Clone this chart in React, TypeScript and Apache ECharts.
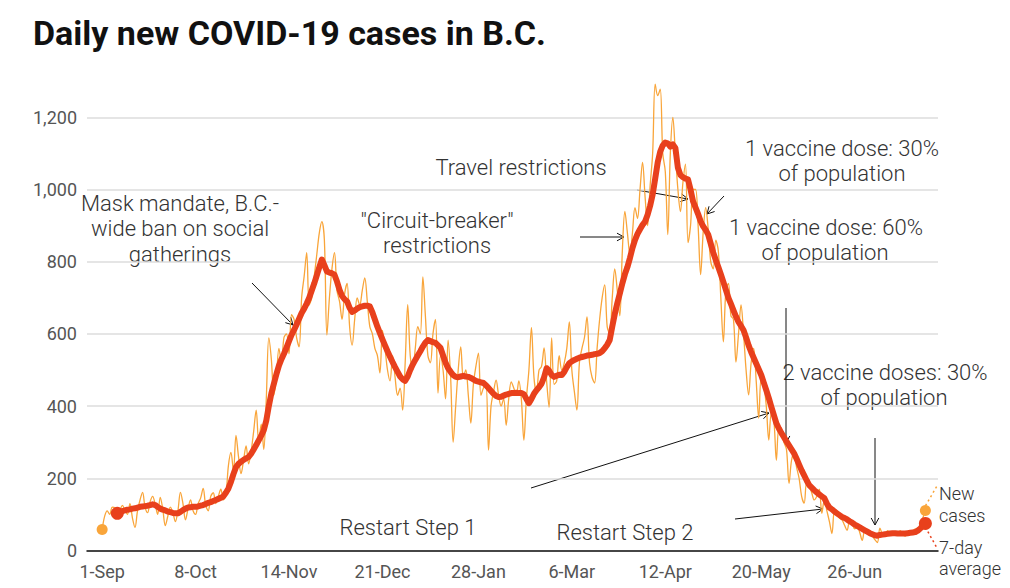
import React, { useEffect, useRef } from 'react';
import * as echarts from 'echarts';

// x tick positions (days since 1-Sep) and labels
const tickDays = [0, 37, 74, 111, 149, 186, 223, 261, 298];
const tickLabels = ['1-Sep', '8-Oct', '14-Nov', '21-Dec', '28-Jan', '6-Mar', '12-Apr', '20-May', '26-Jun'];

// Daily new cases, one value per day starting 1-Sep
const newCases = [
  58, 95, 110, 100, 120, 118, 95, 110, 125, 112,
  100, 130, 90, 64, 110, 140, 161, 120, 105, 135,
  150, 128, 100, 147, 115, 69, 95, 120, 105, 80,
  110, 161, 130, 85, 115, 140, 110, 100, 130, 145,
  172, 125, 110, 150, 160, 130, 150, 170, 140, 155,
  235, 272, 220, 319, 260, 213, 250, 290, 240, 275,
  330, 389, 300, 350, 280, 420, 589, 530, 430, 480,
  560, 520, 590, 600, 545, 653, 640, 590, 564, 700,
  760, 825, 680, 700, 760, 820, 880, 911, 860, 597,
  700, 780, 825, 720, 690, 640, 710, 740, 620, 569,
  640, 700, 680, 720, 755, 690, 620, 600, 560, 540,
  492, 610, 560, 500, 470, 540, 480, 430, 450, 389,
  520, 681, 540, 500, 560, 620, 600, 758, 650, 540,
  520, 600, 640, 436, 540, 500, 420, 583, 480, 300,
  400, 500, 564, 480, 500, 430, 353, 460, 510, 547,
  430, 450, 460, 278, 400, 440, 472, 430, 400, 420,
  347, 420, 467, 450, 430, 470, 420, 306, 420, 500,
  617, 480, 436, 500, 510, 561, 470, 397, 589, 460,
  470, 540, 500, 520, 560, 633, 500, 440, 389, 520,
  560, 590, 647, 520, 480, 464, 560, 640, 700, 736,
  620, 600, 700, 780, 720, 650, 830, 939, 880, 820,
  880, 950, 920, 1000, 1075, 980, 900, 1010, 1100, 1292,
  1260, 1278, 1100, 1050, 875, 1100, 1200, 1100, 1000, 939,
  1020, 1070, 853, 900, 1000, 1000, 900, 764, 880, 950,
  890, 800, 780, 860, 830, 700, 578, 720, 740, 650,
  640, 522, 600, 680, 600, 500, 431, 520, 560, 470,
  367, 480, 460, 400, 306, 380, 360, 250, 340, 330,
  300, 280, 186, 250, 270, 230, 200, 150, 131, 190,
  180, 160, 140, 150, 170, 103, 140, 110, 80, 47,
  110, 100, 90, 85, 70, 56, 80, 75, 60, 65,
  50, 28, 55, 50, 45, 40, 30, 22, 62, 45,
  40, 55, 48, 45, 50, 42, 55, 45, 40, 50,
  45, 52, 60, 55, 70, 90, 111,
];

// 7-day average, same days (first six days have no average)
const avg7 = [
  null, null, null, null, null, null, 103, 106, 109, 111,
  113, 114, 116, 117, 119, 121, 122, 123, 124, 126,
  128, 126, 121, 116, 113, 111, 108, 106, 104, 103,
  103, 107, 112, 116, 119, 120, 121, 121, 122, 124,
  126, 129, 132, 134, 137, 140, 143, 146, 150, 160,
  172, 190, 212, 231, 240, 246, 251, 255, 259, 268,
  280, 292, 305, 318, 333, 360, 400, 435, 462, 488,
  512, 530, 545, 562, 580, 597, 611, 626, 642, 658,
  670, 684, 700, 720, 740, 762, 785, 806, 790, 773,
  770, 768, 764, 745, 722, 705, 696, 690, 672, 661,
  665, 670, 674, 676, 678, 678, 676, 660, 640, 620,
  602, 585, 568, 552, 537, 522, 508, 495, 482, 474,
  470, 482, 500, 515, 528, 540, 552, 565, 576, 583,
  580, 577, 575, 568, 561, 540, 520, 505, 495, 486,
  481, 480, 482, 484, 482, 481, 478, 474, 470, 468,
  466, 464, 458, 450, 442, 434, 428, 425, 426, 429,
  432, 434, 436, 436, 437, 436, 436, 433, 420, 408,
  420, 434, 444, 452, 462, 480, 505, 498, 486, 481,
  484, 487, 486, 495, 508, 519, 524, 528, 531, 534,
  536, 538, 540, 541, 542, 544, 545, 547, 552, 560,
  570, 583, 620, 655, 685, 712, 740, 765, 785, 810,
  838, 860, 877, 890, 902, 911, 930, 955, 986, 1030,
  1075, 1105, 1122, 1130, 1128, 1119, 1125, 1115, 1060, 1040,
  1034, 1030, 1028, 1000, 967, 950, 932, 912, 898, 888,
  875, 850, 825, 805, 785, 765, 744, 722, 700, 683,
  665, 648, 633, 622, 610, 590, 568, 550, 534, 518,
  502, 486, 465, 444, 422, 398, 375, 352, 338, 325,
  314, 302, 291, 280, 269, 254, 238, 222, 208, 194,
  181, 174, 167, 161, 155, 150, 145, 130, 119, 114,
  108, 103, 98, 93, 90, 86, 81, 77, 72, 68,
  64, 60, 56, 52, 48, 45, 42, 41, 43, 44,
  45, 46, 47, 48, 48, 47, 47, 47, 47, 48,
  49, 50, 51, 55, 61, 68, 75,
];

const ORANGE = '#F9A53A';
const RED = '#E8401C';
const TEXT = '#333333';
const FONT = 'Roboto, "Noto Sans", sans-serif';

function arrow(x1: number, y1: number, x2: number, y2: number) {
  const ang = Math.atan2(y2 - y1, x2 - x1);
  const L = 8;
  const a = 0.5;
  const p1 = [x2 - L * Math.cos(ang - a), y2 - L * Math.sin(ang - a)];
  const p2 = [x2 - L * Math.cos(ang + a), y2 - L * Math.sin(ang + a)];
  return [
    { type: 'line', silent: true, shape: { x1, y1, x2, y2 }, style: { stroke: '#111', lineWidth: 1 } },
    { type: 'polyline', silent: true, shape: { points: [p1, [x2, y2], p2] }, style: { stroke: '#111', fill: null, lineWidth: 1 } },
  ];
}

function label(text: string, x: number, y: number, align = 'center', size = 22) {
  return {
    type: 'text',
    silent: true,
    x,
    y,
    style: {
      text,
      fill: TEXT,
      fontSize: size,
      fontWeight: 300,
      fontFamily: FONT,
      textAlign: align,
      textVerticalAlign: 'middle',
    },
  };
}

export default function App() {
  const ref = useRef<HTMLDivElement>(null);

  useEffect(() => {
    if (!ref.current) return;
    const chart = echarts.init(ref.current, null, { renderer: 'svg' });

    const caseData = newCases.map((v, i) => [i, v]);
    const avgData = avg7.map((v, i) => [i, v]).filter((d) => d[1] != null);
    const last = newCases.length - 1;

    const graphics: any[] = [
      {
        type: 'text',
        silent: true,
        x: 33,
        y: 33,
        style: {
          text: 'Daily new COVID-19 cases in B.C.',
          fill: '#111',
          fontSize: 34,
          fontWeight: 'bold',
          fontFamily: FONT,
          textVerticalAlign: 'middle',
        },
      },
      label('Mask mandate, B.C.-', 180, 203),
      label('wide ban on social', 180, 228),
      label('gatherings', 180, 254),
      label('"Circuit-breaker"', 437, 220),
      label('restrictions', 437, 245),
      label('Travel restrictions', 521, 167),
      label('1 vaccine dose: 30%', 842, 148),
      label('of population', 842, 173),
      label('1 vaccine dose: 60%', 826, 227),
      label('of population', 825, 252),
      label('2 vaccine doses: 30%', 885, 372),
      label('of population', 884, 397),
      label('Restart Step 1', 408, 527),
      label('Restart Step 2', 625, 532),
      label('New', 939, 493, 'left', 18),
      label('cases', 939, 515, 'left', 18),
      label('7-day', 939, 547, 'left', 18),
      label('average', 939, 568, 'left', 18),
      { type: 'line', silent: true, shape: { x1: 923, y1: 510, x2: 937, y2: 486 }, style: { stroke: ORANGE, lineWidth: 1.5, lineDash: [2, 3] } },
      { type: 'line', silent: true, shape: { x1: 923, y1: 523, x2: 937, y2: 548 }, style: { stroke: RED, lineWidth: 1.5, lineDash: [2, 3] } },
      ...arrow(252, 283, 293, 325),
      ...arrow(580, 237, 624, 237),
      ...arrow(637, 190, 688, 199),
      ...arrow(724, 196, 707, 214),
      ...arrow(786, 308, 786, 443),
      ...arrow(531, 488, 769, 413),
      ...arrow(735, 519, 823, 509),
      ...arrow(875, 438, 875, 525),
    ];

    chart.setOption({
      animation: false,
      backgroundColor: '#ffffff',
      grid: { left: 87, right: 72, top: 117.3, bottom: 37.5, containLabel: false },
      xAxis: {
        type: 'value',
        min: -6,
        max: 331,
        axisLine: { show: true, lineStyle: { color: '#111', width: 1.5 } },
        axisTick: { show: false },
        splitLine: { show: false },
        axisLabel: {
          customValues: tickDays,
          color: '#555',
          fontSize: 18,
          fontFamily: FONT,
          margin: 12,
          formatter: (v: number) => {
            const k = tickDays.indexOf(Math.round(v));
            return k >= 0 ? tickLabels[k] : '';
          },
        },
      },
      yAxis: {
        type: 'value',
        min: 0,
        max: 1200,
        interval: 200,
        axisLine: { show: false },
        axisTick: { show: false },
        splitLine: { lineStyle: { color: '#dddddd', width: 1.5 } },
        axisLabel: {
          color: '#555',
          fontSize: 18,
          fontFamily: FONT,
          margin: 10,
          formatter: (v: number) => v.toLocaleString('en-US'),
        },
      },
      graphic: graphics,
      series: [
        {
          name: 'New cases',
          type: 'line',
          data: caseData,
          showSymbol: false,
          smooth: 0.35,
          clip: false,
          lineStyle: { color: ORANGE, width: 1.3 },
          z: 2,
        },
        {
          name: '7-day average',
          type: 'line',
          data: avgData,
          showSymbol: false,
          clip: false,
          lineStyle: { color: RED, width: 6, join: 'round', cap: 'round' },
          z: 3,
        },
        {
          type: 'scatter',
          data: [caseData[0], caseData[last]],
          symbolSize: 11,
          itemStyle: { color: ORANGE, opacity: 1 },
          z: 4,
        },
        {
          type: 'scatter',
          data: [avgData[0], avgData[avgData.length - 1]],
          symbolSize: 13,
          itemStyle: { color: RED, opacity: 1 },
          z: 5,
        },
      ],
    });
    return () => chart.dispose();
  }, []);

  return (
    <div
      ref={ref}
      style={{ position: 'fixed', left: 0, top: 0, width: 1010, height: 588, background: '#fff' }}
    />
  );
}
